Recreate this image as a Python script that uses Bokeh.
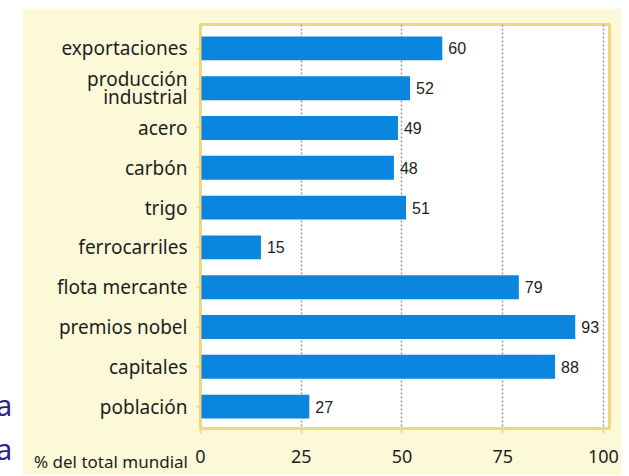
from bokeh.plotting import figure
from bokeh.models import Range1d, FixedTicker, Div, ColumnDataSource
from bokeh.layouts import row, column
from bokeh.embed import file_html
from bokeh.resources import INLINE
from bokeh.core.properties import value

categories = ["exportaciones", "producción\nindustrial", "acero", "carbón", "trigo",
              "ferrocarriles", "flota mercante", "premios nobel", "capitales", "población"]
values = [60, 52, 49, 48, 51, 15, 79, 93, 88, 27]
x_ticks = [0, 25, 50, 75, 100]
x_tick_labels = ["0", "25", "50", "75", "100"]
axis_title = "% del total mundial"

BEIGE = "#fcf9d8"
BAR = "#0a85e0"
YEL = "#f1d67e"
FONT = "Noto Sans"

pos = list(range(len(categories)))
src = ColumnDataSource(data=dict(y=pos, v=values, t=[str(v) for v in values]))

p = figure(width=599, height=467, output_backend="svg", toolbar_location=None,
           x_range=Range1d(0, 101.5), y_range=Range1d(9.55, -0.6),
           min_border_left=178, min_border_right=12, min_border_top=16, min_border_bottom=47,
           margin=(8, 0, 0, 0))
p.background_fill_color = "white"
p.border_fill_color = BEIGE
p.outline_line_color = YEL
p.outline_line_width = 3

p.hbar(y="y", right="v", left=0, height=0.6, source=src, fill_color=BAR, line_color=None)
p.text(x="v", y="y", text="t", source=src, x_offset=6, text_baseline="middle",
       text_align="left", text_font=value("Liberation Sans"), text_font_size="16px",
       text_color="#1e1e1e")

# x axis
xa = p.xaxis[0]
xa.ticker = FixedTicker(ticks=x_ticks)
xa.major_label_overrides = {t: l for t, l in zip(x_ticks, x_tick_labels)}
xa.major_label_text_font = FONT
xa.major_label_text_font_size = "18px"
xa.major_label_text_color = "#1e1e1e"
xa.major_label_standoff = 16
xa.axis_line_color = YEL
xa.axis_line_width = 2
xa.major_tick_line_color = YEL
xa.major_tick_line_width = 2
xa.major_tick_out = 5
xa.major_tick_in = 0
xa.minor_tick_line_color = None

# y axis
ya = p.yaxis[0]
ya.ticker = FixedTicker(ticks=pos)
ya.major_label_overrides = {i: c for i, c in zip(pos, categories)}
ya.major_label_text_font = FONT
ya.major_label_text_font_size = "19px"
ya.major_label_text_line_height = 0.7
ya.major_label_text_color = "#1e1e1e"
ya.major_label_standoff = 9
ya.axis_line_color = YEL
ya.axis_line_width = 2
ya.major_tick_line_color = YEL
ya.major_tick_line_width = 2
ya.major_tick_out = 4
ya.major_tick_in = 0
ya.minor_tick_line_color = None

p.ygrid.grid_line_color = None
p.xgrid.ticker = FixedTicker(ticks=x_ticks[1:])
p.xgrid.grid_line_color = "#9a9a9a"
p.xgrid.grid_line_width = 1.5
p.xgrid.grid_line_dash = "2 2"

side = Div(width=22, height=475, margin=(0, 0, 0, 0), styles={"background-color": "white"},
           text=('<div style="position:relative;width:22px;height:475px;">'
                 '<div style="position:absolute;left:-4px;top:390px;font-family:\'Noto Sans\';'
                 'font-size:29px;line-height:1;color:#2f1f8c;">a</div>'
                 '<div style="position:absolute;left:-4px;top:434px;font-family:\'Noto Sans\';'
                 'font-size:29px;line-height:1;color:#2f1f8c;">a</div></div>'))

note = Div(width=188, height=22, margin=(-24, 0, 0, 0),
           styles={"position": "relative", "z-index": "10"},
           text=('<div style="width:188px;text-align:right;font-family:\'Noto Sans\';'
                 'font-size:17px;line-height:22px;color:#1e1e1e;">' + axis_title + '</div>'))

layout = column(row(side, p, spacing=0), note, spacing=0)
open("out.html", "w").write(file_html(layout, INLINE))
